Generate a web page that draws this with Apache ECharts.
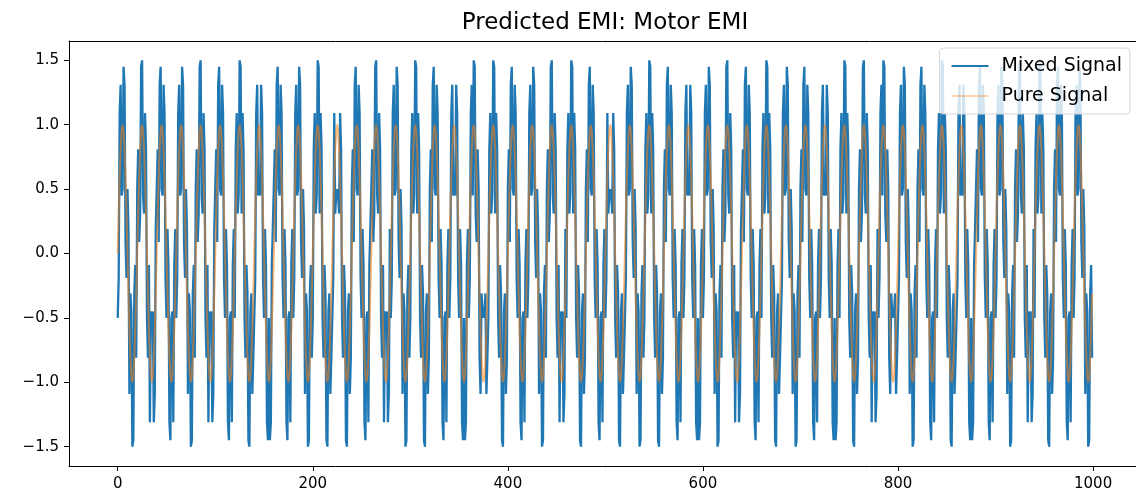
<!DOCTYPE html>
<html>
<head>
<meta charset="utf-8">
<script src="https://cdn.jsdelivr.net/npm/echarts@6/dist/echarts.min.js"></script>
<style>html,body{margin:0;padding:0;background:#fff;}#chart{width:1136px;height:503px;}</style>
</head>
<body>
<div id="chart"></div>
<script>
const title = "Predicted EMI: Motor EMI";
const seriesNames = ["Mixed Signal", "Pure Signal"];
const xTicks = [0, 200, 400, 600, 800, 1000];
const yTicks = [-1.5, -1.0, -0.5, 0.0, 0.5, 1.0, 1.5];

const mixedSignal = [
-.5,-.19,1.09,1.31,.45,.5,1.45,1.31,.09,-.19,.5,.19,-1.09,-.31,-.45,-1.5,-1.45,-.31,-.09,-.81,
.5,.81,.09,.31,1.45,1.5,.45,.31,1.09,.81,-.5,-.81,-.09,-1.31,-.45,-.5,-.45,-1.31,-1.09,.19,
.5,.81,.09,1.31,1.45,.5,.45,1.31,1.09,-.19,-.5,.19,-.09,-1.31,-1.45,-.5,-.45,-1.31,-.09,.19,
-.5,-.19,1.09,1.31,.45,.5,1.45,1.31,.09,-.19,.5,.19,-1.09,-.31,-.45,-1.5,-1.45,-.31,-.09,-.81,
.5,.81,.09,.31,1.45,1.5,.45,.31,1.09,.81,-.5,-.81,-.09,-1.31,-.45,-.5,-.45,-1.31,-1.09,.19,
.5,.81,.09,1.31,1.45,.5,.45,1.31,1.09,-.19,-.5,.19,-.09,-1.31,-1.45,-.5,-.45,-1.31,-.09,.19,
-.5,.81,1.09,.31,.45,1.5,1.45,.31,1.09,.81,-.5,-.81,-.09,-.31,-1.45,-1.5,-.45,-.31,-1.09,-.81,
-.5,-.19,1.09,1.31,.45,.5,.45,1.31,1.09,-.19,-.5,.19,-.09,-1.31,-1.45,-.5,-1.45,-1.31,-.09,.19,
.5,.81,.09,1.31,1.45,.5,.45,1.31,1.09,-.19,-.5,.19,-.09,-1.31,-1.45,-.5,-.45,-1.31,-.09,.19,
-.5,-.19,1.09,1.31,.45,.5,1.45,1.31,.09,-.19,.5,.19,-1.09,-.31,-.45,-1.5,-1.45,-.31,-.09,-.81,
-.5,.81,1.09,.31,.45,1.5,1.45,.31,1.09,.81,-.5,-.81,-.09,-.31,-1.45,-1.5,-.45,-.31,-1.09,-.81,
-.5,-.19,1.09,.31,.45,.5,.45,.31,1.09,.81,-.5,-.81,-.09,-.31,-1.45,-1.5,-.45,-.31,-1.09,-.81,
.5,.81,.09,1.31,1.45,.5,.45,1.31,1.09,-.19,-.5,.19,-.09,-1.31,-1.45,-.5,-.45,-1.31,-.09,.19,
.5,.81,.09,.31,1.45,1.5,.45,.31,1.09,.81,-.5,-.81,-.09,-1.31,-.45,-.5,-.45,-1.31,-1.09,.19,
-.5,-.19,1.09,1.31,.45,.5,1.45,1.31,.09,-.19,.5,.19,-1.09,-.31,-.45,-1.5,-1.45,-.31,-.09,-.81,
-.5,.81,1.09,.31,.45,1.5,1.45,.31,1.09,.81,-.5,-.81,-.09,-.31,-1.45,-1.5,-.45,-.31,-1.09,-.81,
.5,.81,.09,1.31,1.45,.5,.45,1.31,1.09,-.19,-.5,.19,-.09,-1.31,-1.45,-.5,-.45,-1.31,-.09,.19,
-.5,-.19,1.09,1.31,.45,.5,.45,1.31,1.09,-.19,-.5,.19,-.09,-1.31,-1.45,-.5,-1.45,-1.31,-.09,.19,
-.5,-.19,1.09,1.31,.45,1.5,1.45,.31,.09,.81,.5,-.81,-1.09,-.31,-.45,-.5,-.45,-.31,-1.09,-.81,
-.5,.81,1.09,.31,.45,1.5,1.45,.31,1.09,.81,-.5,-.81,-.09,-.31,-1.45,-1.5,-.45,-.31,-1.09,-.81,
.5,.81,.09,1.31,1.45,.5,.45,1.31,1.09,-.19,-.5,.19,-.09,-1.31,-1.45,-.5,-.45,-1.31,-.09,.19,
-.5,-.19,1.09,1.31,.45,.5,1.45,1.31,.09,-.19,.5,.19,-1.09,-.31,-.45,-1.5,-1.45,-.31,-.09,-.81,
.5,.81,.09,.31,1.45,1.5,.45,.31,1.09,.81,-.5,-.81,-.09,-1.31,-.45,-.5,-.45,-1.31,-1.09,.19,
-.5,.81,1.09,.31,.45,1.5,1.45,.31,1.09,.81,-.5,-.81,-.09,-.31,-1.45,-1.5,-.45,-.31,-1.09,-.81,
.5,.81,.09,1.31,1.45,.5,.45,1.31,1.09,-.19,-.5,.19,-.09,-1.31,-1.45,-.5,-.45,-1.31,-.09,.19,
-.5,-.19,1.09,.31,.45,.5,.45,.31,1.09,.81,-.5,-.81,-.09,-.31,-1.45,-1.5,-.45,-.31,-1.09,-.81,
-.5,-.19,1.09,1.31,.45,.5,1.45,1.31,.09,-.19,.5,.19,-1.09,-.31,-.45,-1.5,-1.45,-.31,-.09,-.81,
-.5,.81,1.09,.31,.45,1.5,1.45,.31,1.09,.81,-.5,-.81,-.09,-.31,-1.45,-1.5,-.45,-.31,-1.09,-.81,
.5,.81,.09,1.31,1.45,.5,.45,1.31,1.09,-.19,-.5,.19,-.09,-1.31,-1.45,-.5,-.45,-1.31,-.09,.19,
-.5,-.19,1.09,1.31,.45,.5,.45,1.31,1.09,-.19,-.5,.19,-.09,-1.31,-1.45,-.5,-1.45,-1.31,-.09,.19,
-.5,-.19,1.09,1.31,.45,.5,1.45,1.31,.09,-.19,.5,.19,-1.09,-.31,-.45,-1.5,-1.45,-.31,-.09,-.81,
.5,.81,.09,.31,1.45,1.5,.45,.31,1.09,.81,-.5,-.81,-.09,-1.31,-.45,-.5,-.45,-1.31,-1.09,.19,
.5,.81,.09,1.31,1.45,.5,.45,1.31,1.09,-.19,-.5,.19,-.09,-1.31,-1.45,-.5,-.45,-1.31,-.09,.19,
-.5,.81,1.09,.31,.45,1.5,1.45,.31,1.09,.81,-.5,-.81,-.09,-.31,-1.45,-1.5,-.45,-.31,-1.09,-.81,
-.5,-.19,1.09,1.31,.45,.5,1.45,1.31,.09,-.19,.5,.19,-1.09,-.31,-.45,-1.5,-1.45,-.31,-.09,-.81,
.5,.81,.09,1.31,1.45,.5,.45,1.31,1.09,-.19,-.5,.19,-.09,-1.31,-1.45,-.5,-.45,-1.31,-.09,.19,
-.5,-.19,1.09,1.31,.45,.5,.45,1.31,1.09,-.19,-.5,.19,-.09,-1.31,-1.45,-.5,-1.45,-1.31,-.09,.19,
-.5,.81,1.09,.31,.45,1.5,1.45,.31,1.09,.81,-.5,-.81,-.09,-.31,-1.45,-1.5,-.45,-.31,-1.09,-.81,
.5,.81,.09,.31,1.45,1.5,.45,.31,1.09,.81,-.5,-.81,-.09,-1.31,-.45,-.5,-.45,-1.31,-1.09,.19,
-.5,-.19,1.09,1.31,.45,1.5,1.45,.31,.09,.81,.5,-.81,-1.09,-.31,-.45,-.5,-.45,-.31,-1.09,-.81,
-.5,-.19,1.09,1.31,.45,.5,1.45,1.31,.09,-.19,.5,.19,-1.09,-.31,-.45,-1.5,-1.45,-.31,-.09,-.81,
.5,.81,.09,1.31,1.45,.5,.45,1.31,1.09,-.19,-.5,.19,-.09,-1.31,-1.45,-.5,-.45,-1.31,-.09,.19,
-.5,.81,1.09,.31,.45,1.5,1.45,.31,1.09,.81,-.5,-.81,-.09,-.31,-1.45,-1.5,-.45,-.31,-1.09,-.81,
-.5,-.19,1.09,1.31,.45,.5,.45,1.31,1.09,-.19,-.5,.19,-.09,-1.31,-1.45,-.5,-1.45,-1.31,-.09,.19,
.5,.81,.09,1.31,1.45,.5,.45,1.31,1.09,-.19,-.5,.19,-.09,-1.31,-1.45,-.5,-.45,-1.31,-.09,.19,
-.5,-.19,1.09,1.31,.45,.5,1.45,1.31,.09,-.19,.5,.19,-1.09,-.31,-.45,-1.5,-1.45,-.31,-.09,-.81,
.5,.81,.09,.31,1.45,1.5,.45,.31,1.09,.81,-.5,-.81,-.09,-1.31,-.45,-.5,-.45,-1.31,-1.09,.19,
-.5,.81,1.09,.31,.45,1.5,1.45,.31,1.09,.81,-.5,-.81,-.09,-.31,-1.45,-1.5,-.45,-.31,-1.09,-.81,
.5,.81,.09,1.31,1.45,.5,.45,1.31,1.09,-.19,-.5,.19,-.09,-1.31,-1.45,-.5,-.45,-1.31,-.09,.19,
-.5,-.19,1.09,1.31,.45,.5,1.45,1.31,.09,-.19,.5,.19,-1.09,-.31,-.45,-1.5,-1.45,-.31,-.09,-.81
];

const pureSignal = [
0,.31,.59,.81,.95,1,.95,.81,.59,.31,0,-.31,-.59,-.81,-.95,-1,-.95,-.81,-.59,-.31,
0,.31,.59,.81,.95,1,.95,.81,.59,.31,0,-.31,-.59,-.81,-.95,-1,-.95,-.81,-.59,-.31,
0,.31,.59,.81,.95,1,.95,.81,.59,.31,0,-.31,-.59,-.81,-.95,-1,-.95,-.81,-.59,-.31,
0,.31,.59,.81,.95,1,.95,.81,.59,.31,0,-.31,-.59,-.81,-.95,-1,-.95,-.81,-.59,-.31,
0,.31,.59,.81,.95,1,.95,.81,.59,.31,0,-.31,-.59,-.81,-.95,-1,-.95,-.81,-.59,-.31,
0,.31,.59,.81,.95,1,.95,.81,.59,.31,0,-.31,-.59,-.81,-.95,-1,-.95,-.81,-.59,-.31,
0,.31,.59,.81,.95,1,.95,.81,.59,.31,0,-.31,-.59,-.81,-.95,-1,-.95,-.81,-.59,-.31,
0,.31,.59,.81,.95,1,.95,.81,.59,.31,0,-.31,-.59,-.81,-.95,-1,-.95,-.81,-.59,-.31,
0,.31,.59,.81,.95,1,.95,.81,.59,.31,0,-.31,-.59,-.81,-.95,-1,-.95,-.81,-.59,-.31,
0,.31,.59,.81,.95,1,.95,.81,.59,.31,0,-.31,-.59,-.81,-.95,-1,-.95,-.81,-.59,-.31,
0,.31,.59,.81,.95,1,.95,.81,.59,.31,0,-.31,-.59,-.81,-.95,-1,-.95,-.81,-.59,-.31,
0,.31,.59,.81,.95,1,.95,.81,.59,.31,0,-.31,-.59,-.81,-.95,-1,-.95,-.81,-.59,-.31,
0,.31,.59,.81,.95,1,.95,.81,.59,.31,0,-.31,-.59,-.81,-.95,-1,-.95,-.81,-.59,-.31,
0,.31,.59,.81,.95,1,.95,.81,.59,.31,0,-.31,-.59,-.81,-.95,-1,-.95,-.81,-.59,-.31,
0,.31,.59,.81,.95,1,.95,.81,.59,.31,0,-.31,-.59,-.81,-.95,-1,-.95,-.81,-.59,-.31,
0,.31,.59,.81,.95,1,.95,.81,.59,.31,0,-.31,-.59,-.81,-.95,-1,-.95,-.81,-.59,-.31,
0,.31,.59,.81,.95,1,.95,.81,.59,.31,0,-.31,-.59,-.81,-.95,-1,-.95,-.81,-.59,-.31,
0,.31,.59,.81,.95,1,.95,.81,.59,.31,0,-.31,-.59,-.81,-.95,-1,-.95,-.81,-.59,-.31,
0,.31,.59,.81,.95,1,.95,.81,.59,.31,0,-.31,-.59,-.81,-.95,-1,-.95,-.81,-.59,-.31,
0,.31,.59,.81,.95,1,.95,.81,.59,.31,0,-.31,-.59,-.81,-.95,-1,-.95,-.81,-.59,-.31,
0,.31,.59,.81,.95,1,.95,.81,.59,.31,0,-.31,-.59,-.81,-.95,-1,-.95,-.81,-.59,-.31,
0,.31,.59,.81,.95,1,.95,.81,.59,.31,0,-.31,-.59,-.81,-.95,-1,-.95,-.81,-.59,-.31,
0,.31,.59,.81,.95,1,.95,.81,.59,.31,0,-.31,-.59,-.81,-.95,-1,-.95,-.81,-.59,-.31,
0,.31,.59,.81,.95,1,.95,.81,.59,.31,0,-.31,-.59,-.81,-.95,-1,-.95,-.81,-.59,-.31,
0,.31,.59,.81,.95,1,.95,.81,.59,.31,0,-.31,-.59,-.81,-.95,-1,-.95,-.81,-.59,-.31,
0,.31,.59,.81,.95,1,.95,.81,.59,.31,0,-.31,-.59,-.81,-.95,-1,-.95,-.81,-.59,-.31,
0,.31,.59,.81,.95,1,.95,.81,.59,.31,0,-.31,-.59,-.81,-.95,-1,-.95,-.81,-.59,-.31,
0,.31,.59,.81,.95,1,.95,.81,.59,.31,0,-.31,-.59,-.81,-.95,-1,-.95,-.81,-.59,-.31,
0,.31,.59,.81,.95,1,.95,.81,.59,.31,0,-.31,-.59,-.81,-.95,-1,-.95,-.81,-.59,-.31,
0,.31,.59,.81,.95,1,.95,.81,.59,.31,0,-.31,-.59,-.81,-.95,-1,-.95,-.81,-.59,-.31,
0,.31,.59,.81,.95,1,.95,.81,.59,.31,0,-.31,-.59,-.81,-.95,-1,-.95,-.81,-.59,-.31,
0,.31,.59,.81,.95,1,.95,.81,.59,.31,0,-.31,-.59,-.81,-.95,-1,-.95,-.81,-.59,-.31,
0,.31,.59,.81,.95,1,.95,.81,.59,.31,0,-.31,-.59,-.81,-.95,-1,-.95,-.81,-.59,-.31,
0,.31,.59,.81,.95,1,.95,.81,.59,.31,0,-.31,-.59,-.81,-.95,-1,-.95,-.81,-.59,-.31,
0,.31,.59,.81,.95,1,.95,.81,.59,.31,0,-.31,-.59,-.81,-.95,-1,-.95,-.81,-.59,-.31,
0,.31,.59,.81,.95,1,.95,.81,.59,.31,0,-.31,-.59,-.81,-.95,-1,-.95,-.81,-.59,-.31,
0,.31,.59,.81,.95,1,.95,.81,.59,.31,0,-.31,-.59,-.81,-.95,-1,-.95,-.81,-.59,-.31,
0,.31,.59,.81,.95,1,.95,.81,.59,.31,0,-.31,-.59,-.81,-.95,-1,-.95,-.81,-.59,-.31,
0,.31,.59,.81,.95,1,.95,.81,.59,.31,0,-.31,-.59,-.81,-.95,-1,-.95,-.81,-.59,-.31,
0,.31,.59,.81,.95,1,.95,.81,.59,.31,0,-.31,-.59,-.81,-.95,-1,-.95,-.81,-.59,-.31,
0,.31,.59,.81,.95,1,.95,.81,.59,.31,0,-.31,-.59,-.81,-.95,-1,-.95,-.81,-.59,-.31,
0,.31,.59,.81,.95,1,.95,.81,.59,.31,0,-.31,-.59,-.81,-.95,-1,-.95,-.81,-.59,-.31,
0,.31,.59,.81,.95,1,.95,.81,.59,.31,0,-.31,-.59,-.81,-.95,-1,-.95,-.81,-.59,-.31,
0,.31,.59,.81,.95,1,.95,.81,.59,.31,0,-.31,-.59,-.81,-.95,-1,-.95,-.81,-.59,-.31,
0,.31,.59,.81,.95,1,.95,.81,.59,.31,0,-.31,-.59,-.81,-.95,-1,-.95,-.81,-.59,-.31,
0,.31,.59,.81,.95,1,.95,.81,.59,.31,0,-.31,-.59,-.81,-.95,-1,-.95,-.81,-.59,-.31,
0,.31,.59,.81,.95,1,.95,.81,.59,.31,0,-.31,-.59,-.81,-.95,-1,-.95,-.81,-.59,-.31,
0,.31,.59,.81,.95,1,.95,.81,.59,.31,0,-.31,-.59,-.81,-.95,-1,-.95,-.81,-.59,-.31,
0,.31,.59,.81,.95,1,.95,.81,.59,.31,0,-.31,-.59,-.81,-.95,-1,-.95,-.81,-.59,-.31,
0,.31,.59,.81,.95,1,.95,.81,.59,.31,0,-.31,-.59,-.81,-.95,-1,-.95,-.81,-.59,-.31
];

const FONT = "'DejaVu Sans', sans-serif";
const fmtY = v => v.toFixed(1).replace('-', '\u2212');

const chart = echarts.init(document.getElementById('chart'), null, {renderer: 'canvas'});
chart.setOption({
  animation: false,
  backgroundColor: '#ffffff',
  title: {
    text: title,
    left: 600,
    top: 7,
    textAlign: 'center',
    textStyle: {fontFamily: FONT, fontSize: 23, fontWeight: 'normal', color: '#000'}
  },
  legend: {
    data: [
      {name: seriesNames[0], itemStyle: {color: '#1f77b4'}},
      {name: seriesNames[1], itemStyle: {color: 'rgba(255,127,14,0.6)'}}
    ],
    icon: 'rect',
    orient: 'vertical',
    right: 6,
    top: 48,
    padding: [7, 8, 7, 12],
    itemGap: 8,
    itemWidth: 37,
    itemHeight: 2,
    backgroundColor: 'rgba(255,255,255,0.8)',
    borderColor: '#d6d6d6',
    borderWidth: 1,
    borderRadius: 4,
    textStyle: {fontFamily: FONT, fontSize: 19, color: '#000', padding: [0, 0, 0, 8], lineHeight: 22}
  },
  grid: {left: 69, top: 41, right: 0, height: 425, show: false, containLabel: false},
  xAxis: [{
    type: 'value', min: -49.95, max: 1044,
    splitLine: {show: false},
    axisLine: {show: true, onZero: false, lineStyle: {color: '#000', width: 1}},
    axisTick: {show: true, customValues: xTicks, length: 5, lineStyle: {color: '#000'}},
    axisLabel: {customValues: xTicks, fontFamily: FONT, fontSize: 15, color: '#000', margin: 11, formatter: v => String(v)}
  }, {
    type: 'value', position: 'top', min: -49.95, max: 1044,
    splitLine: {show: false},
    axisLine: {show: true, onZero: false, lineStyle: {color: '#000', width: 1}},
    axisTick: {show: false}, axisLabel: {show: false}
  }],
  yAxis: {
    type: 'value', min: -1.65, max: 1.65,
    splitLine: {show: false},
    axisLine: {show: true, onZero: false, lineStyle: {color: '#000', width: 1}},
    axisTick: {show: true, customValues: yTicks, length: 5, lineStyle: {color: '#000'}},
    axisLabel: {customValues: yTicks, fontFamily: FONT, fontSize: 15, color: '#000', margin: 10, formatter: v => fmtY(v)}
  },
  series: [
    {
      name: seriesNames[0], type: 'line', showSymbol: false, symbol: 'none',
      data: mixedSignal.map((v, i) => [i, v]),
      lineStyle: {color: '#1f77b4', width: 2.3},
      itemStyle: {color: '#1f77b4'}
    },
    {
      name: seriesNames[1], type: 'line', showSymbol: false, symbol: 'none',
      data: pureSignal.map((v, i) => [i, v]),
      lineStyle: {color: '#ff7f0e', width: 2, opacity: 0.55},
      itemStyle: {color: '#ff7f0e', opacity: 0.55}
    }
  ]
});
</script>
</body>
</html>
